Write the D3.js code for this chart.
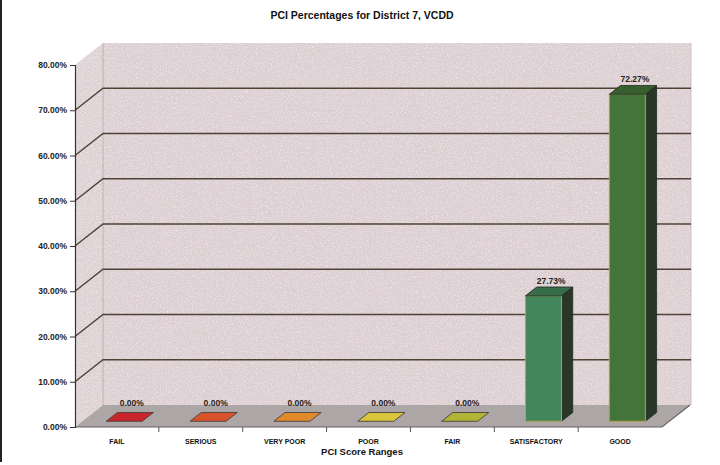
<!DOCTYPE html>
<html>
<head>
<meta charset="utf-8">
<script src="https://cdn.jsdelivr.net/npm/d3@7"></script>
<style>
  html, body { margin: 0; padding: 0; background: #fff; }
  svg { display: block; }
  text { font-family: "Liberation Sans", Arial, sans-serif; }
</style>
</head>
<body>
<div id="chart"></div>
<script>
// PCI score ranges and their share of the district network
const categories = ["FAIL", "SERIOUS", "VERY POOR", "POOR", "FAIR", "SATISFACTORY", "GOOD"];
const percentages = [0.0, 0.0, 0.0, 0.0, 0.0, 27.73, 72.27];
const barColors = ["#c8262a", "#d9532a", "#e08a2c", "#d9c43a", "#b2b436", "#44865c", "#43743a"];
const yTicks = [0, 10, 20, 30, 40, 50, 60, 70, 80];

const W = 720, H = 465;
const svg = d3.select("#chart").append("svg").attr("width", W).attr("height", H);

// Front plane of the 3-D box and its oblique depth offset
const plotL = 75, plotR = 662, plotB = 427, plotT = 65;
const DX = 28, DY = -22;
const depthFront = 0.26, depthBack = 0.66;

const x = d3.scaleBand().domain(categories).range([plotL, plotR]).paddingInner(0).paddingOuter(0);
const y = d3.scaleLinear().domain([0, 80]).range([plotB, plotT]);

// Speckled texture for the wall surfaces
const defs = svg.append("defs");
const grain = defs.append("filter").attr("id", "grain").attr("x", 0).attr("y", 0).attr("width", 1).attr("height", 1);
grain.append("feTurbulence").attr("type", "fractalNoise").attr("baseFrequency", 0.8).attr("numOctaves", 2).attr("seed", 7).attr("result", "n");
grain.append("feColorMatrix").attr("in", "n").attr("type", "matrix")
  .attr("values", "0 0 0 0 1  0 0 0 0 0.97  0 0 0 0 0.98  2.2 0 0 0 -1.0");
grain.append("feComposite").attr("in2", "SourceGraphic").attr("operator", "in");
const grain2 = defs.append("filter").attr("id", "grain2").attr("x", 0).attr("y", 0).attr("width", 1).attr("height", 1);
grain2.append("feTurbulence").attr("type", "fractalNoise").attr("baseFrequency", 0.7).attr("numOctaves", 2).attr("seed", 19).attr("result", "n");
grain2.append("feColorMatrix").attr("in", "n").attr("type", "matrix")
  .attr("values", "0 0 0 0 0.72  0 0 0 0 0.58  0 0 0 0 0.62  0 2.2 0 0 -1.05");
grain2.append("feComposite").attr("in2", "SourceGraphic").attr("operator", "in");

const pts = a => a.map(p => p.join(",")).join(" ");

// Left border rule
svg.append("rect").attr("x", 0).attr("y", 0).attr("width", 2).attr("height", 462).attr("fill", "#222");

// Walls and floor
const backWall = [[plotL + DX, plotT + DY], [plotR + DX + 1, plotT + DY], [plotR + DX + 1, plotB + DY], [plotL + DX, plotB + DY]];
const sideWall = [[plotL, plotT], [plotL + DX, plotT + DY], [plotL + DX, plotB + DY], [plotL, plotB]];
const floor = [[plotL, plotB], [plotL + DX, plotB + DY], [plotR + DX, plotB + DY], [plotR, plotB]];

const walls = svg.append("g");
walls.append("polygon").attr("points", pts(backWall)).attr("fill", "#dccfd2");
walls.append("polygon").attr("points", pts(sideWall)).attr("fill", "#ddd2d4");
walls.append("polygon").attr("points", pts(floor)).attr("fill", "#aca6a7");
[backWall, sideWall].forEach(w => {
  walls.append("polygon").attr("points", pts(w)).attr("fill", "#fff").attr("filter", "url(#grain)").attr("opacity", 0.7);
  walls.append("polygon").attr("points", pts(w)).attr("fill", "#fff").attr("filter", "url(#grain2)").attr("opacity", 0.5);
});
walls.append("line").attr("x1", plotL + DX).attr("x2", plotL + DX).attr("y1", plotT + DY).attr("y2", plotB + DY)
  .attr("stroke", "#b8aaaa").attr("stroke-width", 0.8);
walls.append("line").attr("x1", plotR + DX + 1).attr("x2", plotR + DX + 1).attr("y1", plotT + DY).attr("y2", plotB + DY)
  .attr("stroke", "#c4b8b8").attr("stroke-width", 0.8);
walls.append("polyline").attr("points", pts([[plotL, plotB], [plotR, plotB], [plotR + DX, plotB + DY]]))
  .attr("fill", "none").attr("stroke", "#6a6262").attr("stroke-width", 1.2);

// Gridlines on the side wall and back wall
const grid = svg.append("g");
yTicks.filter(d => d > 0 && d < 80).forEach(d => {
  grid.append("polyline")
    .attr("points", pts([[plotL, y(d)], [plotL + DX, y(d) + DY], [plotR + DX + 1, y(d) + DY]]))
    .attr("fill", "none").attr("stroke", "#4e4234").attr("stroke-width", 1.4);
});

// Y axis
const yAxis = svg.append("g").attr("transform", `translate(${plotL},0)`)
  .call(d3.axisLeft(y).tickValues(yTicks).tickSize(5).tickPadding(3).tickFormat(d => d.toFixed(2) + "%"));
yAxis.select(".domain").attr("stroke", "#333").attr("stroke-width", 1.2);
yAxis.selectAll(".tick line").attr("stroke", "#333");
yAxis.selectAll("text").attr("font-size", 8.5).attr("font-weight", "bold").attr("fill", "#222");

// Category ticks below the floor edge
const xAxis = svg.append("g").attr("transform", `translate(0,${plotB})`);
categories.slice(1).forEach(c => {
  xAxis.append("line").attr("x1", x(c)).attr("x2", x(c)).attr("y1", 0).attr("y2", 5)
    .attr("stroke", "#555").attr("stroke-width", 1);
});
xAxis.selectAll(".cat").data(categories).join("text")
  .attr("x", d => x(d) + x.bandwidth() / 2).attr("y", 17)
  .attr("text-anchor", "middle").attr("font-size", 7).attr("font-weight", "bold").attr("fill", "#111")
  .text(d => d);

// Bars
const bw = x.bandwidth() * 0.43;
const fdx = DX * depthFront, fdy = DY * depthFront;
const bdx = DX * depthBack, bdy = DY * depthBack;
const bars = svg.append("g");
categories.forEach((c, i) => {
  const v = percentages[i];
  const x0 = x(c) + (x.bandwidth() - bw) / 2;
  const x1 = x0 + bw;
  const yv = y(v), y0 = y(0);
  const col = d3.color(barColors[i]);
  const topFace = [[x0 + fdx, yv + fdy], [x1 + fdx, yv + fdy], [x1 + bdx, yv + bdy], [x0 + bdx, yv + bdy]];
  if (v > 0) {
    bars.append("polygon")
      .attr("points", pts([[x1 + fdx, yv + fdy], [x1 + bdx, yv + bdy], [x1 + bdx, y0 + bdy], [x1 + fdx, y0 + fdy]]))
      .attr("fill", "#2a3628").attr("stroke", "#1e2a1e").attr("stroke-width", 0.8);
    bars.append("rect")
      .attr("x", x0 + fdx).attr("y", yv + fdy).attr("width", bw).attr("height", y0 - yv)
      .attr("fill", col).attr("stroke", "#b8a24a").attr("stroke-width", 1);
    bars.append("polygon").attr("points", pts(topFace))
      .attr("fill", col.darker(0.6)).attr("stroke", "#1e2a1e").attr("stroke-width", 0.8);
  } else {
    bars.append("polygon").attr("points", pts(topFace))
      .attr("fill", col).attr("stroke", "#4a4040").attr("stroke-width", 0.9);
  }
  bars.append("text")
    .attr("x", x0 + (fdx + bdx) / 2 + bw / 2 + 2)
    .attr("y", yv + bdy - (v > 0 ? 3 : 6))
    .attr("text-anchor", "middle").attr("font-size", 8.5).attr("font-weight", "bold").attr("fill", "#222")
    .text(v.toFixed(2) + "%");
});

// Titles
svg.append("text").attr("x", 362).attr("y", 19).attr("text-anchor", "middle")
  .attr("font-size", 10.5).attr("font-weight", "bold").attr("fill", "#111")
  .text("PCI Percentages for District 7, VCDD");
svg.append("text").attr("x", 362).attr("y", 455).attr("text-anchor", "middle")
  .attr("font-size", 9.5).attr("font-weight", "bold").attr("fill", "#111")
  .text("PCI Score Ranges");
</script>
</body>
</html>
